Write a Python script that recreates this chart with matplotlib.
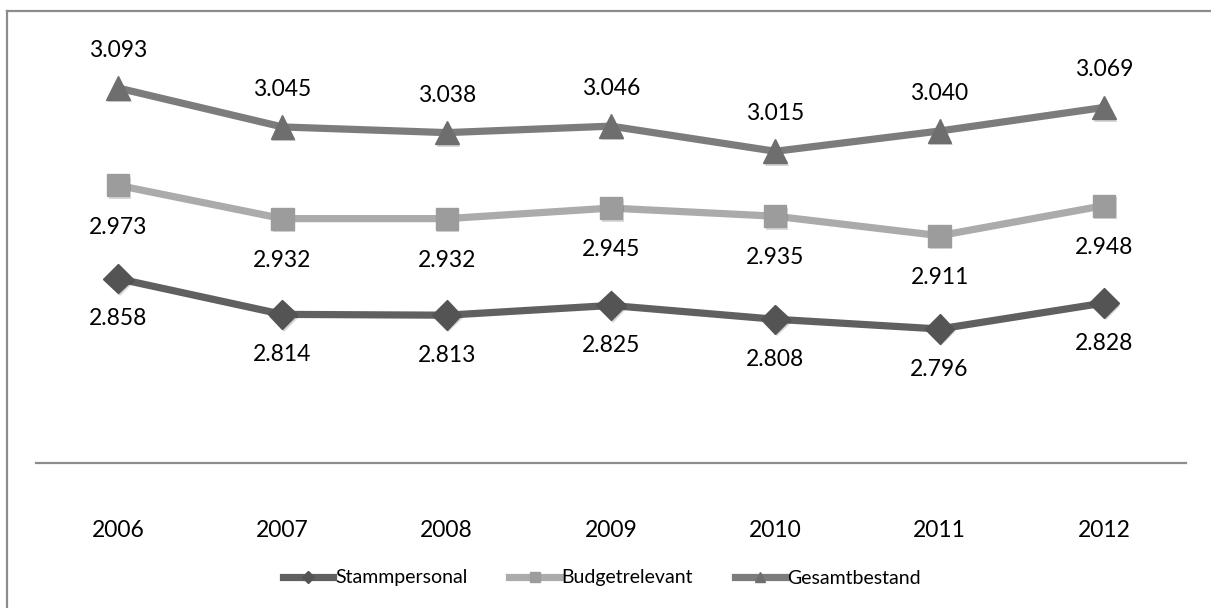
import matplotlib
matplotlib.use("Agg")
import matplotlib.pyplot as plt
import matplotlib.patheffects as pe
from matplotlib.lines import Line2D

plt.rcParams['font.family'] = ['Lato', 'DejaVu Sans']

years = ["2006", "2007", "2008", "2009", "2010", "2011", "2012"]
stammpersonal = [2.858, 2.814, 2.813, 2.825, 2.808, 2.796, 2.828]
budgetrelevant = [2.973, 2.932, 2.932, 2.945, 2.935, 2.911, 2.948]
gesamtbestand = [3.093, 3.045, 3.038, 3.046, 3.015, 3.040, 3.069]

W, H = 1211, 608
fig = plt.figure(figsize=(W / 100, H / 100), dpi=100)

# outer frame (only left and top edges fall inside the canvas)
fig.add_artist(Line2D([7 / W, 7 / W], [0, 1 - 11 / H], color="#8c8c8c", lw=1.6,
                      transform=fig.transFigure))
fig.add_artist(Line2D([7 / W, 1.0], [1 - 11 / H, 1 - 11 / H], color="#8c8c8c", lw=1.6,
                      transform=fig.transFigure))

left, right = 36 / W, 1186 / W
bottom, top = 1 - 463 / H, 1 - 30 / H
ax = fig.add_axes([left, bottom, right - left, top - bottom])

k = 0.8114  # px per thousandth
y_lo = 3.093 - (463 - 88) / k / 1000
y_hi = 3.093 + (88 - 30) / k / 1000
ax.set_ylim(y_lo, y_hi)
ax.set_xlim(-0.5, len(years) - 0.5)

x = list(range(len(years)))
marker_shadow = [pe.SimplePatchShadow(offset=(1.2, -1.8), alpha=0.18), pe.Normal()]

series = [
    ("Stammpersonal", stammpersonal, "#606060", "#545454", "D", 15, -29),
    ("Budgetrelevant", budgetrelevant, "#ababab", "#9c9c9c", "s", 16, -30),
    ("Gesamtbestand", gesamtbestand, "#7c7c7c", "#6e6e6e", "^", 17, 27),
]

for name, vals, lc, mc, mk, ms, off in series:
    ax.plot(x, vals, color=lc, lw=5.2, solid_capstyle="round", zorder=2)
    ax.plot(x, vals, linestyle="none", marker=mk, markersize=ms,
            markerfacecolor=mc, markeredgecolor=mc, zorder=3,
            path_effects=marker_shadow)
    for xi, v in zip(x, vals):
        ax.annotate(f"{v:.3f}", (xi, v), xytext=(0, off), textcoords="offset points",
                    ha="center", va="center", fontsize=16.5, color="#000000")

for s in ["top", "right", "left"]:
    ax.spines[s].set_visible(False)
ax.spines["bottom"].set_color("#8c8c8c")
ax.spines["bottom"].set_linewidth(1.6)
ax.set_yticks([])
ax.set_xticks(x)
ax.set_xticklabels(years, fontsize=16.5)
ax.tick_params(axis="x", length=0, pad=41)
ax.patch.set_alpha(0)

handles = [
    Line2D([], [], color="#606060", lw=5.2, marker="D", markersize=6,
           markerfacecolor="#545454", markeredgecolor="#545454"),
    Line2D([], [], color="#ababab", lw=5.2, marker="s", markersize=7,
           markerfacecolor="#9c9c9c", markeredgecolor="#9c9c9c"),
    Line2D([], [], color="#7c7c7c", lw=5.2, marker="^", markersize=7,
           markerfacecolor="#6e6e6e", markeredgecolor="#6e6e6e"),
]
fig.legend(handles, [s[0] for s in series], loc="center", bbox_to_anchor=(0.497, 1 - 578 / H),
           ncol=3, frameon=False, fontsize=14, handlelength=2.6, handletextpad=0.1,
           columnspacing=2.15)

fig.savefig("out.png", dpi=100)
